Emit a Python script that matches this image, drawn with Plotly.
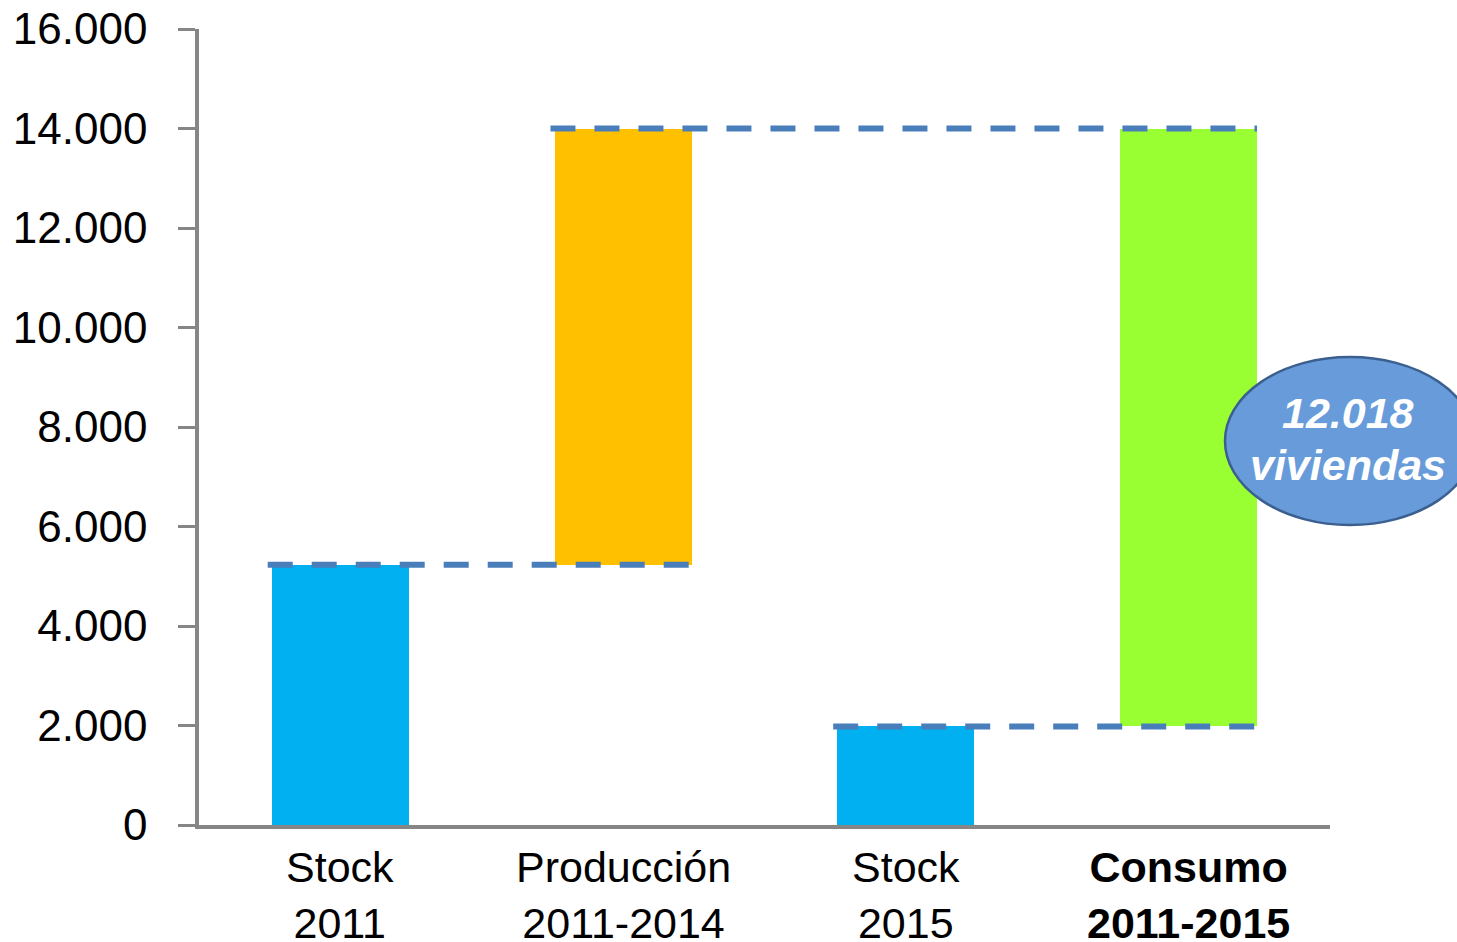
import plotly.graph_objects as go

# ---- data ----
categories_line1 = ["Stock", "Producción", "Stock", "Consumo"]
categories_line2 = ["2011", "2011-2014", "2015", "2011-2015"]
bold_flags = [False, False, False, True]
bar_base = [0, 5230, 0, 1982]
bar_value = [5230, 8770, 1982, 12018]
bar_colors = ["#00B0F0", "#FFC000", "#00B0F0", "#99FF33"]
y_ticks = [0, 2000, 4000, 6000, 8000, 10000, 12000, 14000, 16000]
callout_lines = ["12.018", "viviendas"]

# ---- layout geometry ----
W, H = 1457, 942
ML, MR, MT, MB = 199, 127, 29, 117
PW, PH = W - ML - MR, H - MT - MB
BAR_W = 0.484


def paper_x(px):
    return (px - ML) / PW


def paper_y(py):
    return (H - MB - py) / PH


xs = list(range(len(bar_value)))
fig = go.Figure()
fig.add_trace(go.Bar(
    x=xs, y=bar_value, base=bar_base, width=BAR_W,
    marker=dict(color=bar_colors, line=dict(width=0)),
    showlegend=False, hoverinfo="skip",
))

# connector dashed lines (from data)
tops = [b + v for b, v in zip(bar_base, bar_value)]
connectors = [
    (0, 1, tops[0]),
    (1, 3, tops[1]),
    (2, 3, tops[2]),
]
for i0, i1, yv in connectors:
    fig.add_trace(go.Scatter(
        x=[xs[i0] - BAR_W / 2 - 0.015, xs[i1] + BAR_W / 2],
        y=[yv, yv], mode="lines",
        line=dict(color="#4A7EBB", width=6, dash="25px,19px"),
        showlegend=False, hoverinfo="skip",
    ))

annotations = []
for i, (l1, l2, b) in enumerate(zip(categories_line1, categories_line2, bold_flags)):
    txt = f"{l1}<br>{l2}"
    annotations.append(dict(
        x=xs[i], xref="x", y=0, yref="paper", yanchor="top", xanchor="center",
        yshift=-16, showarrow=False,
        text=f"<b>{txt}</b>" if b else txt,
        font=dict(family="Liberation Sans, Arial", size=43, color="#000000"),
    ))

# callout ellipse
ex0, ex1, ey0, ey1 = 1225, 1475, 357, 525
shapes = [dict(
    type="circle", xref="paper", yref="paper",
    x0=paper_x(ex0), x1=paper_x(ex1), y0=paper_y(ey1), y1=paper_y(ey0),
    fillcolor="#679BDA", line=dict(color="#3B5F8F", width=2.5), layer="above",
)]
for txt, cy in zip(callout_lines, (413, 465)):
    annotations.append(dict(
        x=paper_x(1348), y=paper_y(cy), xref="paper", yref="paper",
        xanchor="center", yanchor="middle", showarrow=False,
        text=f"<b><i>{txt}</i></b>",
        font=dict(family="Liberation Sans, Arial", size=43, color="#FFFFFF"),
    ))

fig.update_layout(
    width=W, height=H,
    margin=dict(l=ML, r=MR, t=MT, b=MB, autoexpand=False),
    paper_bgcolor="white", plot_bgcolor="white",
    separators=",.",
    bargap=0,
    shapes=shapes, annotations=annotations,
    xaxis=dict(
        range=[-0.5, 3.5], showticklabels=False, ticks="", showgrid=False,
        zeroline=False, showline=True, linecolor="#868686", linewidth=4,
        automargin=False,
    ),
    yaxis=dict(
        range=[0, 16000], tickvals=y_ticks, tickformat=",d",
        ticks="outside", ticklen=17, tickwidth=3, tickcolor="#868686",
        showline=True, linecolor="#868686", linewidth=3.5,
        showgrid=False, zeroline=False, ticklabelstandoff=22,
        automargin=False,
        tickfont=dict(family="Liberation Sans, Arial", size=44, color="#000000"),
    ),
)

fig.write_html("out.html")
